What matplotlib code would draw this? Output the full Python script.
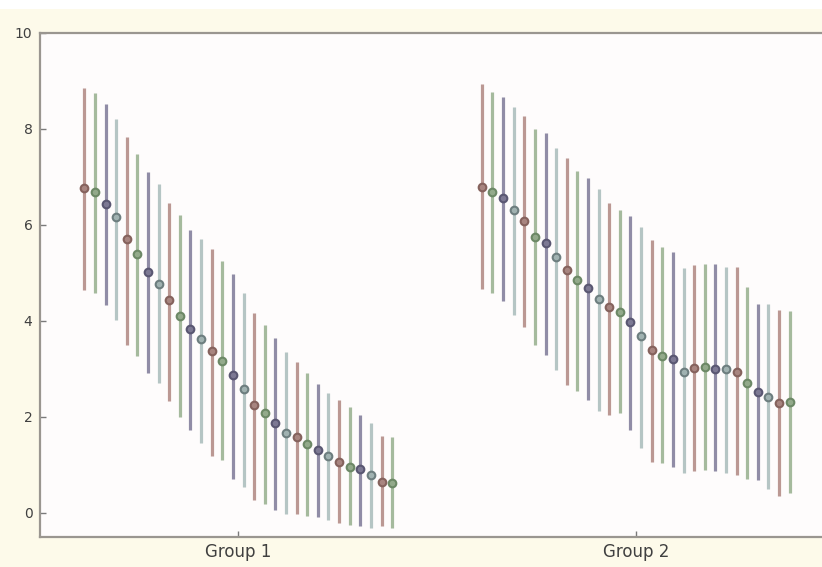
import matplotlib
matplotlib.use("Agg")
import matplotlib.pyplot as plt
import numpy as np
from matplotlib.patches import Rectangle

# ---- data ----
groups = ["Group 1", "Group 2"]

g1_mean = [6.78, 6.68, 6.44, 6.16, 5.70, 5.40, 5.03, 4.78, 4.44, 4.11,
           3.83, 3.62, 3.38, 3.17, 2.87, 2.58, 2.25, 2.08, 1.87, 1.67,
           1.59, 1.43, 1.31, 1.19, 1.07, 0.96, 0.91, 0.79, 0.65, 0.63]
g1_upper = [8.85, 8.74, 8.52, 8.20, 7.84, 7.48, 7.11, 6.85, 6.46, 6.21,
            5.90, 5.70, 5.50, 5.24, 4.97, 4.58, 4.16, 3.92, 3.64, 3.36,
            3.15, 2.92, 2.68, 2.51, 2.35, 2.20, 2.04, 1.88, 1.60, 1.58]
g1_lower = [4.65, 4.58, 4.33, 4.02, 3.50, 3.27, 2.91, 2.71, 2.33, 1.99,
            1.73, 1.45, 1.19, 1.10, 0.70, 0.55, 0.28, 0.19, 0.06, -0.02,
            -0.02, -0.06, -0.09, -0.15, -0.20, -0.25, -0.27, -0.32, -0.28, -0.32]

g2_mean = [6.80, 6.69, 6.56, 6.31, 6.09, 5.76, 5.62, 5.34, 5.06, 4.85,
           4.68, 4.45, 4.29, 4.19, 3.97, 3.68, 3.40, 3.27, 3.20, 2.94,
           3.03, 3.05, 3.01, 3.00, 2.94, 2.70, 2.53, 2.42, 2.29, 2.32]
g2_upper = [8.94, 8.78, 8.66, 8.45, 8.27, 7.99, 7.91, 7.60, 7.39, 7.13,
            6.97, 6.76, 6.45, 6.31, 6.19, 5.96, 5.69, 5.55, 5.44, 5.10,
            5.17, 5.19, 5.19, 5.13, 5.13, 4.70, 4.35, 4.35, 4.23, 4.21]
g2_lower = [4.66, 4.59, 4.42, 4.13, 3.87, 3.50, 3.29, 2.98, 2.67, 2.55,
            2.35, 2.13, 2.04, 2.08, 1.72, 1.35, 1.07, 1.05, 0.96, 0.83,
            0.88, 0.90, 0.88, 0.84, 0.79, 0.70, 0.69, 0.51, 0.35, 0.41]

yticks = [0, 2, 4, 6, 8, 10]

# ---- style ----
line_colors = ["#bb9893", "#a5ba9d", "#908ca6", "#b5c5c4"]
edge_colors = ["#85625d", "#6c8866", "#5a5772", "#6d7e7f"]
face_colors = ["#a88580", "#93aa8b", "#7d7994", "#a0b2b1"]

fig = plt.figure(figsize=(8.22, 5.67), dpi=100)
fig.patch.set_facecolor("#fdfaea")
fig.patches.append(Rectangle((0, 1 - 9 / 567), 1, 9 / 567, transform=fig.transFigure,
                             facecolor="white", edgecolor="none", zorder=0))

ax = fig.add_axes([39.5 / 822, 1 - 537 / 567, 795 / 822, (537 - 33) / 567])
ax.set_facecolor("#fefcfc")

spacing = 0.0267
series = [(g1_mean, g1_lower, g1_upper), (g2_mean, g2_lower, g2_upper)]
for gi, (m, lo, hi) in enumerate(series):
    n = len(m)
    for i in range(n):
        x = gi + 1 + (i - (n - 1) / 2) * spacing
        c = i % 4
        ax.vlines(x, lo[i], hi[i], color=line_colors[c], linewidth=2.3, zorder=2)
        ax.plot([x], [m[i]], marker="o", markersize=5.5, markerfacecolor=face_colors[c],
                markeredgecolor=edge_colors[c], markeredgewidth=1.5, zorder=3)

ax.set_xlim(0.5, 2.5)
ax.set_ylim(-0.5, 10)
ax.set_xticks([1, 2])
ax.set_xticklabels(groups, fontsize=12, color="#404040")
ax.set_yticks(yticks)
ax.set_yticklabels([str(t) for t in yticks], fontsize=10, color="#404040")
ax.tick_params(axis="both", direction="in", length=4, width=1, color="#7a7a7a")
ax.tick_params(axis="y", pad=5)
ax.tick_params(axis="x", pad=4)

for s in ["left", "bottom", "top"]:
    ax.spines[s].set_color("#9a9690")
    ax.spines[s].set_linewidth(1.6)
ax.spines["right"].set_visible(False)

fig.savefig("out.png", dpi=100, facecolor=fig.get_facecolor())
